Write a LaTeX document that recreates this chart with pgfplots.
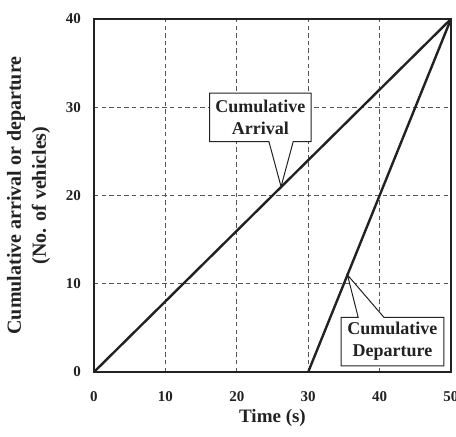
\documentclass[border=0pt]{standalone}
\usepackage{pgfplots}
\pgfplotsset{compat=1.18}
\usepackage{fontspec}
\setmainfont{Liberation Serif}
\usetikzlibrary{calc}
\definecolor{ink}{HTML}{222222}
\definecolor{gridink}{HTML}{555555}

\begin{document}
\begin{tikzpicture}
\begin{axis}[
  scale only axis,
  width=178.5pt, height=176.5pt,
  xmin=0, xmax=50, ymin=0, ymax=40,
  xtick={0,10,20,30,40,50},
  ytick={0,10,20,30,40},
  major tick length=0pt,
  grid=major,
  major grid style={gridink, line width=0.5pt, dash pattern=on 2.2pt off 1.6pt},
  axis line style={ink, line width=1pt},
  /pgf/number format/assume math mode=true,
  tick label style={font=\fontsize{7.5}{9}\selectfont\bfseries, text=ink},
  xticklabel style={yshift=-6pt},
  yticklabel style={xshift=-3pt},
  xlabel={Time (s)},
  xlabel style={font=\fontsize{9.5}{11}\selectfont\bfseries, text=ink, yshift=3pt},
  ylabel={Cumulative arrival or departure\\(No. of vehicles)},
  ylabel style={font=\fontsize{10}{12.5}\selectfont\bfseries, text=ink, align=center, yshift=1pt},
  clip=false,
]
% callout boxes
\draw[ink, line width=0.5pt, fill=white]
  (axis cs:16.2,31.6) -- (axis cs:30.4,31.6) -- (axis cs:30.4,26.1) --
  (axis cs:27.9,26.1) -- (axis cs:26.2,21.0) -- (axis cs:24.5,26.1) --
  (axis cs:16.2,26.1) -- cycle;
\node[font=\fontsize{9}{11}\selectfont\bfseries, text=ink, align=center]
  at (axis cs:23.3,28.85) {Cumulative\\Arrival};
\draw[ink, line width=0.5pt, fill=white]
  (axis cs:34.6,6.2) -- (axis cs:37.0,6.2) -- (axis cs:35.5,11.0) --
  (axis cs:40.6,6.2) -- (axis cs:49.0,6.2) -- (axis cs:49.0,0.7) --
  (axis cs:34.6,0.7) -- cycle;
\node[font=\fontsize{9}{11}\selectfont\bfseries, text=ink, align=center]
  at (axis cs:41.8,3.45) {Cumulative\\Departure};
% cumulative arrival
\addplot[ink, line width=1.2pt] coordinates {(0,0) (50,40)};
% cumulative departure
\addplot[ink, line width=1.2pt] coordinates {(30,0) (50,40)};
\coordinate (o) at (rel axis cs:0,0);
\end{axis}
\pgfresetboundingbox
\path ($(o)+(-47pt,-32.5pt)$) rectangle ++(228pt,218.5pt);
\end{tikzpicture}
\end{document}
